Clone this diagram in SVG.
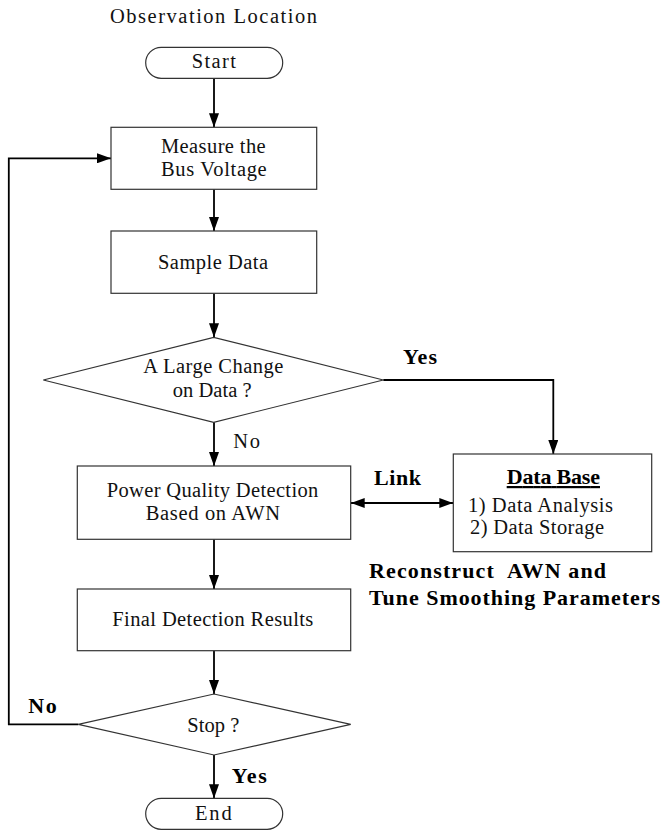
<svg xmlns="http://www.w3.org/2000/svg" width="663" height="831" viewBox="0 0 663 831">
<style>
.box{fill:#fff;stroke:#333;stroke-width:1.2}
.conn{stroke:#000;stroke-width:1.8;fill:none}
.t{font-family:"Liberation Serif","Times New Roman",serif;font-size:20.5px;fill:#111}
.b{font-weight:bold;fill:#000;font-size:22px}
</style>
<defs>
<marker id="arr" viewBox="0 0 14 10" refX="14" refY="5" markerWidth="14" markerHeight="10" markerUnits="userSpaceOnUse" orient="auto-start-reverse">
<path d="M0,0 L14,5 L0,10 z" fill="#000"/>
</marker>
</defs>
<rect width="663" height="831" fill="#fff"/>
<text class="t" x="110" y="22.7" textLength="207">Observation Location</text>
<g id="connectors">
<line class="conn" x1="214" y1="78.3" x2="214" y2="127.3" marker-end="url(#arr)"/>
<line class="conn" x1="214" y1="189.3" x2="214" y2="231" marker-end="url(#arr)"/>
<line class="conn" x1="214" y1="293.3" x2="214" y2="337.3" marker-end="url(#arr)"/>
<line class="conn" x1="214" y1="422.3" x2="214" y2="466" marker-end="url(#arr)"/>
<polyline class="conn" points="383.3,380 553.3,380 553.3,454" marker-end="url(#arr)"/>
<line class="conn" x1="350.7" y1="503" x2="453.3" y2="503" marker-start="url(#arr)" marker-end="url(#arr)"/>
<line class="conn" x1="214" y1="539.3" x2="214" y2="589" marker-end="url(#arr)"/>
<line class="conn" x1="214" y1="650.7" x2="214" y2="694" marker-end="url(#arr)"/>
<line class="conn" x1="214" y1="755" x2="214" y2="798.3" marker-end="url(#arr)"/>
<polyline class="conn" points="78.3,724.3 8.8,724.3 8.8,158.3 111,158.3" marker-end="url(#arr)"/>
<text class="t b" x="403" y="364" textLength="34">Yes</text>
<text class="t" x="233.3" y="448.3" textLength="26.7">No</text>
<text class="t b" x="374" y="485" textLength="47">Link</text>
<text class="t b" x="28.3" y="712.7" textLength="28.4">No</text>
<text class="t b" x="231.7" y="783.3" textLength="35">Yes</text>
</g>
<g id="start">
<rect class="box" x="145.7" y="47.3" width="137" height="31" rx="15.5"/>
<text class="t" x="191.7" y="68.3" textLength="44.3">Start</text>
</g>
<g id="measure">
<rect class="box" x="111" y="127.3" width="205.7" height="62"/>
<text class="t" x="161" y="153.3" textLength="104.7">Measure the</text>
<text class="t" x="161" y="176" textLength="105.7">Bus Voltage</text>
</g>
<g id="sample">
<rect class="box" x="111" y="231" width="205.7" height="62.3"/>
<text class="t" x="158" y="269.3" textLength="110">Sample Data</text>
</g>
<g id="change">
<polygon class="box" points="43.3,380 213.7,337.3 383.3,380 213.7,422.3"/>
<text class="t" x="143.3" y="373.3" textLength="140">A Large Change</text>
<text class="t" x="172.7" y="396.7" textLength="79">on Data ?</text>
</g>
<g id="pq">
<rect class="box" x="77.3" y="466" width="273.4" height="73.3"/>
<text class="t" x="106.7" y="497.3" textLength="211.6">Power Quality Detection</text>
<text class="t" x="145.7" y="520" textLength="134.3">Based on AWN</text>
</g>
<g id="database">
<rect class="box" x="453.3" y="454" width="198.4" height="97.7"/>
<text class="t b" x="506.7" y="484" textLength="93.3" text-decoration="underline">Data Base</text>
<text class="t" x="468" y="511.7" textLength="145">1) Data Analysis</text>
<text class="t" x="470" y="534" textLength="134">2) Data Storage</text>
</g>
<g id="reconstruct">
<text class="t b" x="369" y="578.3" textLength="237" xml:space="preserve">Reconstruct  AWN and</text>
<text class="t b" x="369" y="605" textLength="291">Tune Smoothing Parameters</text>
</g>
<g id="final">
<rect class="box" x="77.3" y="589" width="273.4" height="61.7"/>
<text class="t" x="112.3" y="626" textLength="201">Final Detection Results</text>
</g>
<g id="stop">
<polygon class="box" points="78.3,724.3 214,694 350.7,724.3 214,755"/>
<text class="t" x="187.3" y="731.7" textLength="52">Stop ?</text>
</g>
<g id="end">
<rect class="box" x="145.7" y="798.3" width="137" height="31" rx="15.5"/>
<text class="t" x="195" y="820" textLength="36.7">End</text>
</g>
</svg>
